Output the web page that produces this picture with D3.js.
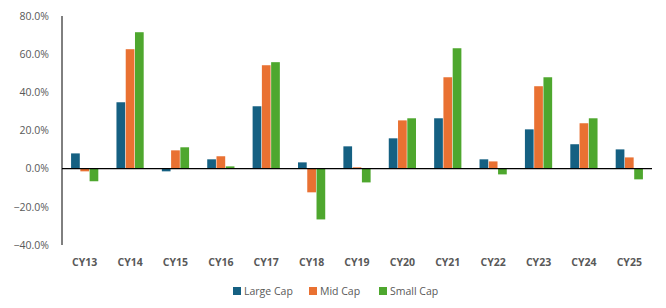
<!DOCTYPE html>
<html><head><meta charset="utf-8">
<script src="https://cdn.jsdelivr.net/npm/d3@7"></script>
<style>body{margin:0;background:#fff}svg{display:block}</style>
</head><body><div id="c"></div>
<script>
const categories = ["CY13","CY14","CY15","CY16","CY17","CY18","CY19","CY20","CY21","CY22","CY23","CY24","CY25"];
const seriesNames = ["Large Cap","Mid Cap","Small Cap"];
const largeCap = [8.0,34.8,-1.4,4.9,32.7,3.3,11.7,15.9,26.4,4.9,20.6,12.8,10.1];
const midCap   = [-1.4,62.6,9.6,6.5,54.2,-12.4,0.7,25.3,47.9,3.8,43.2,23.8,5.9];
const smallCap = [-6.6,71.5,11.2,1.2,55.8,-26.6,-7.2,26.4,63.1,-3.0,47.9,26.4,-5.6];
const yTicks = [-40,-20,0,20,40,60,80];
const colors = ["#156082","#E97132","#4EA72E"];

const W=666,H=308;
const svg=d3.select("#c").append("svg").attr("width",W).attr("height",H);
const x0=d3.scaleBand().domain(categories).range([62,652]).paddingInner(0.4).paddingOuter(0.2);
const x1=d3.scaleBand().domain(seriesNames).range([0,x0.bandwidth()]).paddingInner(0.06);
const y=d3.scaleLinear().domain([-40,80]).range([245,16]);
const data=[largeCap,midCap,smallCap];
const font="'Open Sans', 'DejaVu Sans', sans-serif";

// y labels
svg.append("g").selectAll("text").data(yTicks).join("text")
  .attr("x",49).attr("y",d=>y(d)).attr("dy","0.35em").attr("text-anchor","end")
  .attr("font-family",font).attr("font-size",10.5).attr("fill","#595959")
  .text(d=>d3.format(".1f")(d)+"%");

// bars
categories.forEach((c,i)=>{
  seriesNames.forEach((s,j)=>{
    const v=data[j][i];
    svg.append("rect").attr("x",x0(c)+x1(s)).attr("width",x1.bandwidth())
      .attr("y",y(Math.max(0,v))).attr("height",Math.abs(y(v)-y(0)))
      .attr("fill",colors[j]);
  });
});

// axes lines
svg.append("line").attr("x1",62).attr("x2",62).attr("y1",16).attr("y2",245).attr("stroke","#000").attr("stroke-width",1);
svg.append("line").attr("x1",62).attr("x2",652).attr("y1",y(0)).attr("y2",y(0)).attr("stroke","#000").attr("stroke-width",1.3);

// x labels
svg.append("g").selectAll("text").data(categories).join("text")
  .attr("x",d=>x0(d)+x0.bandwidth()/2).attr("y",266).attr("text-anchor","middle")
  .attr("font-family",font).attr("font-size",10.5).attr("font-weight","bold").attr("fill","#595959")
  .text(d=>d);

// legend
const legX=[233,309,379];
seriesNames.forEach((s,j)=>{
  svg.append("rect").attr("x",legX[j]).attr("y",287).attr("width",8).attr("height",8).attr("fill",colors[j]);
  svg.append("text").attr("x",legX[j]+11).attr("y",291).attr("dy","0.35em")
    .attr("font-family",font).attr("font-size",10.5).attr("fill","#595959").text(s);
});
</script></body></html>
